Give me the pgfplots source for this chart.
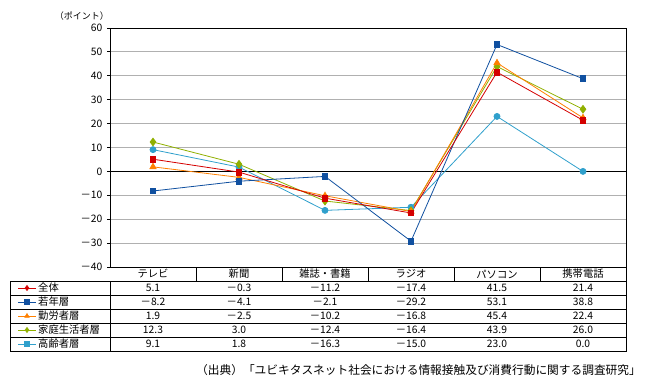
\documentclass[border=0pt]{standalone}
\usepackage{fontspec}
\setmainfont{Noto Sans CJK JP}
\usepackage{pgfplots}
\pgfplotsset{compat=1.18}
\definecolor{cRed}{HTML}{D40000}
\definecolor{cBlue}{HTML}{1050A0}
\definecolor{cOrange}{HTML}{FF8000}
\definecolor{cGreen}{HTML}{90B000}
\definecolor{cLBlue}{HTML}{30A0CC}
\definecolor{cGrid}{HTML}{B0B0B0}
\begin{document}
\fontsize{10.3}{12}\selectfont
\begin{tikzpicture}[x=1pt,y=1pt]
\path (0,0) rectangle (654,389);
\begin{axis}[
  at={(110pt,122pt)}, anchor=south west,
  width=516pt, height=239pt, scale only axis,
  xmin=0, xmax=6, ymin=-40, ymax=60,
  xtick=\empty,
  ytick={-40,-30,-20,-10,0,10,20,30,40,50,60},
  yticklabels={－40,－30,－20,－10,0,10,20,30,40,50,60},
  ytick pos=left, ytick align=outside,
  major tick length=3pt,
  tick style={black, line width=0.8pt},
  ymajorgrids, grid style={cGrid, line width=0.9pt},
  axis line style={black, line width=0.9pt},
  y tick label style={font=\fontsize{10.3}{12}\selectfont, xshift=-1pt},
  /pgf/number format/assume math mode=true,
  clip=false,
  every axis plot/.append style={line width=0.8pt},
]
\draw[black, line width=0.9pt] (axis cs:0,0) -- (axis cs:6,0);
\addplot[cLBlue, mark=*, mark size=3pt, mark options={fill=cLBlue, draw=cLBlue}] coordinates {(0.5,9.1) (1.5,1.8) (2.5,-16.3) (3.5,-15.0) (4.5,23.0) (5.5,0.0)};
\addplot[cGreen, mark=diamond*, mark size=3.8pt, mark options={fill=cGreen, draw=cGreen}] coordinates {(0.5,12.3) (1.5,3.0) (2.5,-12.4) (3.5,-16.4) (4.5,43.9) (5.5,26.0)};
\addplot[cOrange, mark=triangle*, mark size=3.5pt, mark options={fill=cOrange, draw=cOrange}] coordinates {(0.5,1.9) (1.5,-2.5) (2.5,-10.2) (3.5,-16.8) (4.5,45.4) (5.5,22.4)};
\addplot[cBlue, mark=square*, mark size=2.8pt, mark options={fill=cBlue, draw=cBlue}] coordinates {(0.5,-8.2) (1.5,-4.1) (2.5,-2.1) (3.5,-29.2) (4.5,53.1) (5.5,38.8)};
\addplot[cRed, mark=square*, mark size=2.8pt, mark options={fill=cRed, draw=cRed}] coordinates {(0.5,5.1) (1.5,-0.3) (2.5,-11.2) (3.5,-17.4) (4.5,41.5) (5.5,21.4)};
\end{axis}
% unit label
\node[anchor=east, inner sep=0, font=\fontsize{9}{11}\selectfont] at (109,373) {（ポイント）};
% table grid
\begin{scope}[line width=0.9pt, black]
\foreach \k in {1,...,5} { \draw (110+86*\k,122) -- (110+86*\k,108); }
\draw (626,122) -- (626,38);
\draw (10,108) rectangle (626,38);
\foreach \yy in {94,80,66,52} { \draw (10,\yy) -- (626,\yy); }
\draw (110,108) -- (110,38);
\end{scope}
% category header
\foreach \n [count=\i] in {テレビ,新聞,雑誌・書籍,ラジオ,パソコン,携帯電話} {
  \node[inner sep=0] at (110+86*\i-43,115) {\n};
}
% legend column
\newcommand\legrow[4]{%
  \draw[#1, line width=0.9pt] (18,#3) -- (36,#3);
  \path[fill=#1, draw=#1, line width=0.5pt] plot[mark=#2, mark size=2.6pt] coordinates {(27,#3)};
  \node[anchor=west, inner sep=0] at (38,#3) {#4};
}
\legrow{cRed}{diamond*}{101}{全体}
\legrow{cBlue}{square*}{87}{若年層}
\legrow{cOrange}{triangle*}{73}{勤労者層}
\legrow{cGreen}{diamond*}{59}{家庭生活者層}
\legrow{cLBlue}{square*}{45}{高齢者層}
% values
\newcommand\valrow[7]{%
  \node[inner sep=0] at (153,#1) {#2};
  \node[inner sep=0] at (239,#1) {#3};
  \node[inner sep=0] at (325,#1) {#4};
  \node[inner sep=0] at (411,#1) {#5};
  \node[inner sep=0] at (497,#1) {#6};
  \node[inner sep=0] at (583,#1) {#7};
}
\valrow{101}{5.1}{－0.3}{－11.2}{－17.4}{41.5}{21.4}
\valrow{87}{－8.2}{－4.1}{－2.1}{－29.2}{53.1}{38.8}
\valrow{73}{1.9}{－2.5}{－10.2}{－16.8}{45.4}{22.4}
\valrow{59}{12.3}{3.0}{－12.4}{－16.4}{43.9}{26.0}
\valrow{45}{9.1}{1.8}{－16.3}{－15.0}{23.0}{0.0}
% source
\node[anchor=east, inner sep=0, font=\fontsize{11.7}{13}\selectfont] at (641,19) {（出典）「ユビキタスネット社会における情報接触及び消費行動に関する調査研究」};
\end{tikzpicture}
\end{document}
